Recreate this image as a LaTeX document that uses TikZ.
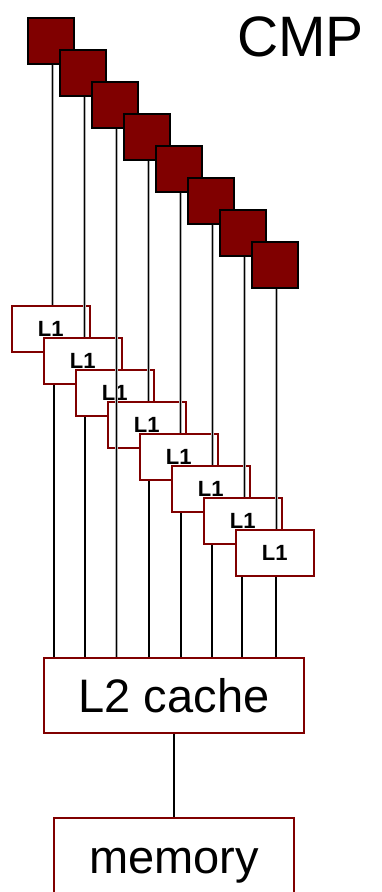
\documentclass[tikz,border=0pt]{standalone}
\usepackage{fontspec}
\setmainfont{Liberation Sans}
\usetikzlibrary{backgrounds}
\definecolor{darkred}{HTML}{800000}
\begin{document}
\begin{tikzpicture}[x=1pt,y=-1pt,
 core/.style={draw=black, fill=darkred, line width=2pt, minimum size=46pt, inner sep=0pt},
 lonebox/.style={draw=darkred, fill=white, line width=2pt, minimum width=78pt, minimum height=46.6pt, inner sep=0pt, font=\fontsize{22}{22}\selectfont\bfseries},
 cachebox/.style={draw=darkred, fill=white, line width=2pt, inner sep=0pt, font=\fontsize{47}{50}\selectfont},
 upline/.style={draw=gray!60, double=black, double distance=1.2pt, line width=0.9pt},
 downline/.style={draw=black, line width=2pt}]
\useasboundingbox (0,0) rectangle (381,892);
\clip (0,0) rectangle (381,892);
\foreach \i in {0,...,7} \node[core] (s\i) at ({50.7+32*\i},{40.7+32*\i}) {};
\foreach \i in {0,...,7} \node[lonebox] (l\i) at ({50.7+32*\i},{329+32*\i}) {L1};
\node[cachebox, minimum width=260.6pt, minimum height=75.6pt] (l2) at (174,695.5) {L2 cache};
\node[cachebox, minimum width=239.4pt, minimum height=96.6pt] (mem) at (174,866) {memory};
\node[anchor=base west, inner sep=0pt, font=\fontsize{57}{60}\selectfont] (cmp) at (237,56.7) {CMP};
\begin{pgfonlayer}{background}
\foreach \i/\dx in {0/3,1/2.3,2/2.3,3/2,4/2.3,5/1,6/-1,7/1.3}
  \draw[downline] ([xshift=\dx pt]l\i.south) -- ([xshift=\dx pt]l\i.south |- l2.north);
\draw[downline] (l2.south) -- (mem.north);
\end{pgfonlayer}
\foreach \i in {0,...,7}
  \draw[upline] ([xshift=1.6pt]s\i.south) -- ([xshift=1.6pt]s\i.south |- l\i.north);
\end{tikzpicture}
\end{document}
